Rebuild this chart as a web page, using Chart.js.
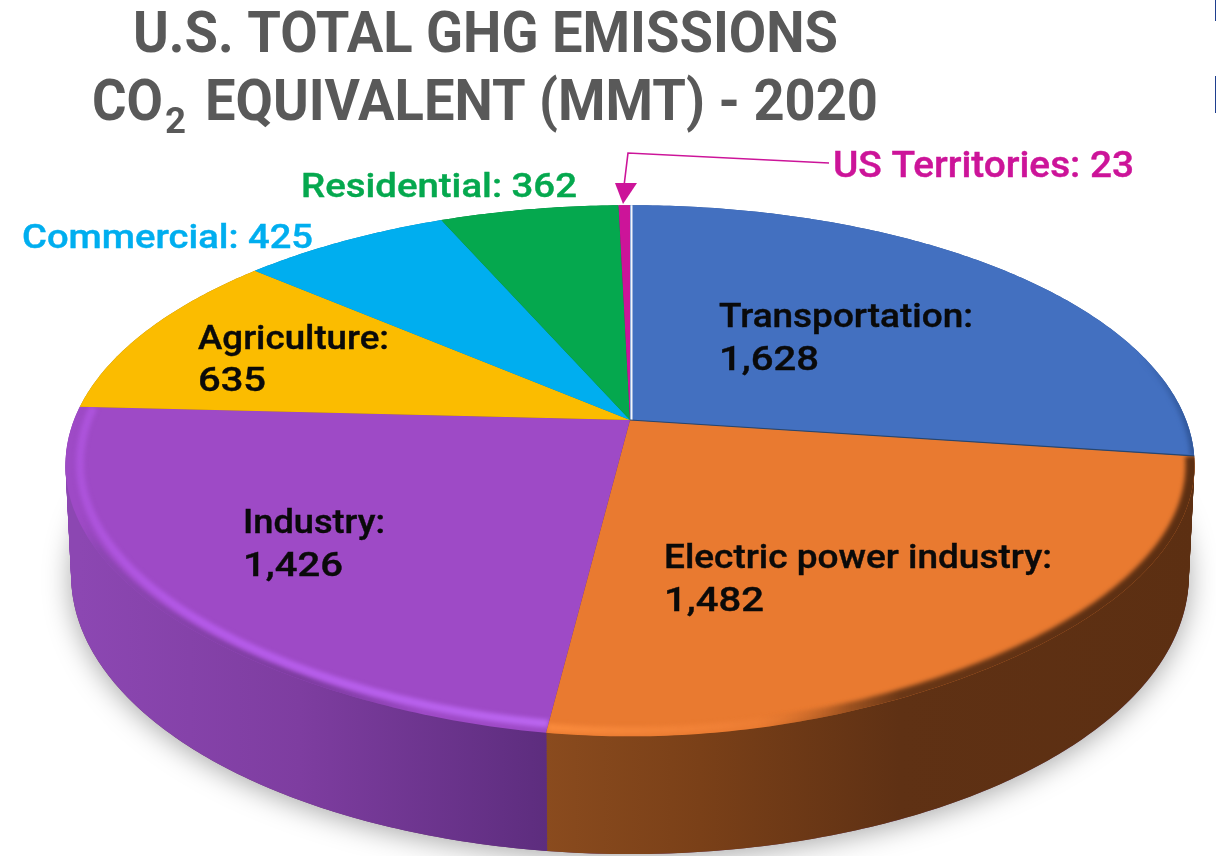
<!DOCTYPE html>
<html>
<head>
<meta charset="utf-8">
<title>U.S. Total GHG Emissions</title>
<script src="https://cdn.jsdelivr.net/npm/chart.js@4/dist/chart.umd.min.js"></script>
<style>
    html, body { margin: 0; padding: 0; background: #ffffff; }
    canvas { display: block; }
</style>
</head>
<body>
<canvas id="ghgChart" width="1216" height="856"></canvas>
<script>
// data
var categories = ['Transportation', 'Electric power industry', 'Industry', 'Agriculture', 'Commercial', 'Residential', 'US Territories'];
var emissions = [1628, 1482, 1426, 635, 425, 362, 23];
var titleLine1 = 'U.S. TOTAL GHG EMISSIONS';
var titleLine2 = ['CO', '2', 'EQUIVALENT (MMT) - 2020'];

// styles
var topColors = ['#4370c0', '#e97a30', '#9e4ac6', '#fbbc00', '#00aeef', '#05a84e', '#cc1499'];
var wallStops = [
    [[1100, '#2f5597'], [1200, '#2f5597']],
    [[546, '#8a4b1e'], [700, '#7a4018'], [900, '#5f3114'], [1200, '#5c2f12']],
    [[80, '#8c47b2'], [300, '#7e3da0'], [546, '#5d2d7e']],
    [[80, '#a07800'], [300, '#a07800']],
    [[300, '#0080b0'], [500, '#0080b0']],
    [[500, '#037a38'], [600, '#037a38']],
    [[600, '#8a0e68'], [640, '#8a0e68']]
];
// outer band of the bevel: wall colour creeping over the face
var edgeBands = [
    { width: 8, stops: [[1140, 'rgba(47, 85, 151, 0)'], [1196, '#2f5597']] },
    { width: 18, stops: [[760, 'rgba(122, 64, 24, 0)'], [900, '#6a3716'], [1060, '#5f3114'], [1196, '#5c2f12']] },
    { width: 11, stops: [[60, 'rgba(140, 71, 178, 0)'], [82, 'rgba(140, 71, 178, 0)'], [100, '#8c47b2'], [300, '#7e3da0'], [420, 'rgba(110, 52, 144, 0)'], [546, 'rgba(110, 52, 144, 0)']] },
    null, null, null, null
];
// inner band of the bevel: the light catching the rim
var glowBands = [
    null,
    { scale: 0.985, width: 8, stops: [[546, '#f98a3c'], [720, '#ef8036'], [850, 'rgba(233, 122, 48, 0)'], [1190, 'rgba(233, 122, 48, 0)']] },
    { scale: 0.975, width: 8, stops: [[60, '#ab52d8'], [200, '#b45ae8'], [546, '#bb66f0']] },
    null, null, null, null
];

// where the labels sit, x / baseline / width
var labelPlaces = [
    { x: 719, y: 327, w: 254, y2: 370, w2: 100 },
    { x: 664, y: 568, w: 388, y2: 611, w2: 100 },
    { x: 243, y: 533, w: 142, y2: 576, w2: 100 },
    { x: 198, y: 349, w: 191, y2: 391, w2: 68 }
];
var outsideLabels = [
    { index: 4, x: 22, y: 248, w: 291, size: 34 },
    { index: 5, x: 301, y: 197, w: 276, size: 34 },
    { index: 6, x: 833, y: 177, w: 301, size: 36 }
];

// perspective of the disc
var centerX = 630, centerY = 420;
var radiusX = 556, radiusY = 252, tilt = 0.173, depth = 107, shrink = 0.01, lip = 0.09;
var wallLevels = 60;

function project(angle, z, scale) {
    var u = Math.cos(angle) * scale;
    var v = Math.sin(angle) * scale;
    var w = 1 / (1 - tilt * v);
    return {
        x: centerX + radiusX * u * w * (1 - shrink * z),
        y: centerY + (radiusY * v + depth * z) * w
    };
}

// the face bulges a little over the wall at the very front
function lipAt(angle) {
    return lip * Math.pow(Math.max(0, Math.sin(angle)), 8);
}

function traceArc(ctx, start, end, z, scale, moveFirst, useLip) {
    var steps = Math.max(2, Math.ceil(Math.abs(end - start) / 0.012));
    for (var i = 0; i <= steps; i++) {
        var a = start + (end - start) * i / steps;
        var p = project(a, useLip ? lipAt(a) : z, scale);
        if (i === 0 && moveFirst) ctx.moveTo(p.x, p.y);
        else ctx.lineTo(p.x, p.y);
    }
}

function horizontalGradient(ctx, stops) {
    var x0 = stops[0][0], x1 = stops[stops.length - 1][0];
    var g = ctx.createLinearGradient(x0, 0, x1, 0);
    stops.forEach(function(s) {
        g.addColorStop((s[0] - x0) / (x1 - x0), s[1]);
    });
    return g;
}

function faceSlicePath(ctx, arc) {
    ctx.beginPath();
    ctx.moveTo(centerX, centerY);
    traceArc(ctx, arc.startAngle, arc.endAngle, 0, 1, false, true);
    ctx.closePath();
}

function strokeBand(ctx, arc, band, scale, blur) {
    ctx.save();
    faceSlicePath(ctx, arc);
    ctx.clip();
    ctx.filter = 'blur(' + blur + 'px)';
    ctx.beginPath();
    traceArc(ctx, arc.startAngle, arc.endAngle, 0, scale, true, true);
    ctx.lineWidth = band.width;
    ctx.strokeStyle = horizontalGradient(ctx, band.stops);
    ctx.stroke();
    ctx.restore();
}

function drawDisc(chart) {
    var ctx = chart.ctx;
    var arcs = chart.getDatasetMeta(0).data;
    ctx.save();

    // soft shadow under the disc
    ctx.save();
    ctx.shadowColor = 'rgba(0, 0, 0, 0.35)';
    ctx.shadowBlur = 28;
    ctx.shadowOffsetY = 4;
    ctx.fillStyle = '#6a3a70';
    ctx.beginPath();
    traceArc(ctx, 0, Math.PI * 2, 1, 1, true);
    ctx.closePath();
    ctx.fill();
    ctx.restore();

    // walls, stacked copies of the slices from the bottom up
    var wallFills = wallStops.map(function(stops) {
        return horizontalGradient(ctx, stops);
    });
    for (var level = wallLevels; level >= 0; level--) {
        var z = level / wallLevels;
        var mid = project(0, z, 0);
        arcs.forEach(function(arc, i) {
            ctx.beginPath();
            ctx.moveTo(mid.x, mid.y);
            traceArc(ctx, arc.startAngle, arc.endAngle, z, 1, false);
            ctx.closePath();
            ctx.fillStyle = wallFills[i];
            ctx.fill();
        });
    }

    // top faces
    arcs.forEach(function(arc, i) {
        faceSlicePath(ctx, arc);
        ctx.fillStyle = topColors[i];
        ctx.fill();
    });

    // bevel along the rim
    arcs.forEach(function(arc, i) {
        if (edgeBands[i]) strokeBand(ctx, arc, edgeBands[i], 1, 2);
        if (glowBands[i]) strokeBand(ctx, arc, glowBands[i], glowBands[i].scale, 2);
    });

    // thin edges between some slices
    var first = arcs[0];
    var p0 = project(first.startAngle, 0, 1);
    ctx.beginPath();
    ctx.moveTo(centerX + 1.5, centerY);
    ctx.lineTo(p0.x + 1.5, p0.y);
    ctx.strokeStyle = '#f4f6fb';
    ctx.lineWidth = 2;
    ctx.stroke();
    var p1 = project(first.endAngle, 0, 1);
    ctx.beginPath();
    ctx.moveTo(centerX, centerY);
    ctx.lineTo(p1.x, p1.y);
    ctx.strokeStyle = '#27466f';
    ctx.lineWidth = 1.2;
    ctx.stroke();
    ctx.restore();
}

// text squeezed or stretched to the width measured on the picture
function drawText(ctx, text, x, y, w, font, color, heavy) {
    ctx.save();
    ctx.font = font;
    ctx.fillStyle = color;
    ctx.translate(x, y);
    ctx.scale(w / ctx.measureText(text).width, 1);
    ctx.fillText(text, 0, 0);
    if (heavy) {
        ctx.strokeStyle = color;
        ctx.lineWidth = heavy;
        ctx.strokeText(text, 0, 0);
    }
    ctx.restore();
}

function drawLabels(chart) {
    var ctx = chart.ctx;
    var labelFont = '500 34px Roboto, "Noto Sans", sans-serif';
    ctx.save();
    ctx.textAlign = 'left';
    ctx.textBaseline = 'alphabetic';

    // title
    var titleFont = 'bold 58px Roboto, "Liberation Sans", sans-serif';
    drawText(ctx, titleLine1, 133, 52, 705, titleFont, '#595959');
    drawText(ctx, titleLine2[0], 92, 120, 71, titleFont, '#595959');
    drawText(ctx, titleLine2[1], 165, 133, 21, 'bold 36px Roboto, "Liberation Sans", sans-serif', '#595959');
    drawText(ctx, titleLine2[2], 205, 120, 673, titleFont, '#595959');

    // labels on the slices
    labelPlaces.forEach(function(p, i) {
        drawText(ctx, categories[i] + ':', p.x, p.y, p.w, labelFont, '#0a0a0a', 0.4);
        drawText(ctx, emissions[i].toLocaleString('en-US'), p.x, p.y2, p.w2, labelFont, '#0a0a0a', 0.4);
    });

    // labels outside the disc
    outsideLabels.forEach(function(p) {
        var text = categories[p.index] + ': ' + emissions[p.index];
        drawText(ctx, text, p.x, p.y, p.w, '500 ' + p.size + 'px Roboto, "Noto Sans", sans-serif', topColors[p.index], 0.4);
    });

    // leader line and arrow for the small slice
    var color = topColors[6];
    ctx.beginPath();
    ctx.moveTo(829, 163);
    ctx.lineTo(628, 153);
    ctx.lineTo(624, 186);
    ctx.strokeStyle = color;
    ctx.lineWidth = 1.6;
    ctx.stroke();
    ctx.beginPath();
    ctx.moveTo(615, 183);
    ctx.lineTo(637, 183);
    ctx.lineTo(623, 204);
    ctx.closePath();
    ctx.fillStyle = color;
    ctx.fill();

    // cut-off marks at the right edge
    ctx.fillStyle = '#1f3f8f';
    ctx.fillRect(1215, 0, 1, 21);
    ctx.fillRect(1215, 76, 1, 37);
    ctx.restore();
}

var discPlugin = {
    id: 'disc3d',
    beforeDatasetsDraw: function(chart) {
        drawDisc(chart);
        drawLabels(chart);
        return false;
    }
};

function initGhgChart() {
    var ctx = document.getElementById('ghgChart');
    new Chart(ctx, {
        type: 'pie',
        data: {
            labels: categories,
            datasets: [{
                data: emissions,
                backgroundColor: topColors,
                borderWidth: 0
            }]
        },
        options: {
            responsive: false,
            animation: false,
            plugins: {
                legend: { display: false },
                title: { display: false },
                tooltip: { enabled: false }
            }
        },
        plugins: [discPlugin]
    });
}

initGhgChart();
</script>
</body>
</html>
